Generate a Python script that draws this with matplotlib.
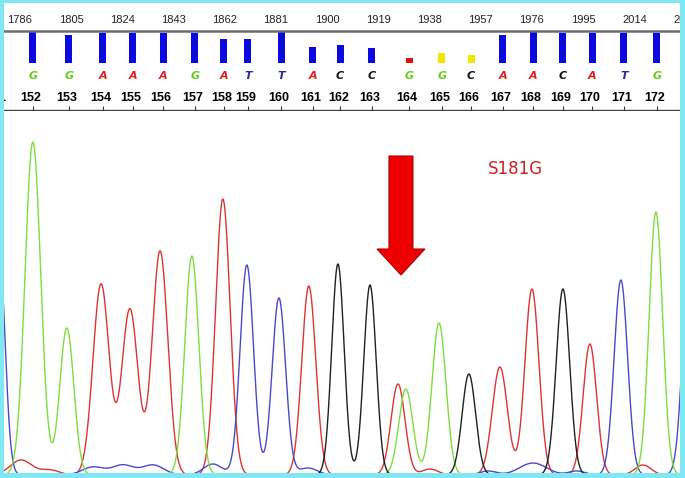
import numpy as np
import matplotlib
matplotlib.use("Agg")
import matplotlib.pyplot as plt
from matplotlib.patches import Rectangle

# ---------------------------------------------------------------------------
# Data (x positions in scan units)
# ---------------------------------------------------------------------------
ruler_scans = [1786, 1805, 1824, 1843, 1862, 1881, 1900, 1919, 1938, 1957,
               1976, 1995, 2014, 2033]

base_numbers = [151, 152, 153, 154, 155, 156, 157, 158, 159, 160, 161, 162,
                163, 164, 165, 166, 167, 168, 169, 170, 171, 172]
base_letters = ["T", "G", "G", "A", "A", "A", "G", "A", "T", "T", "A", "C",
                "C", "G", "G", "C", "A", "A", "C", "A", "T", "G"]
base_scans = [1777.8, 1790.8, 1804.2, 1816.8, 1827.9, 1839.1, 1850.9, 1861.7,
              1870.6, 1882.9, 1894.7, 1904.8, 1916.6, 1930.4, 1942.6, 1953.4,
              1965.2, 1976.4, 1987.5, 1998.3, 2010.1, 2022.4]
quality = [30, 31, 28, 30, 30, 30, 30, 24, 24, 31, 16, 18, 15, 5, 10, 8,
           28, 31, 30, 30, 30, 30]

# trace peaks: (scan, height, width)
peaks_G = [(1790.8, 333, 2.9), (1803.4, 147, 2.6), (1849.8, 219, 2.6),
           (1929.2, 86, 2.6), (1941.5, 152, 2.6), (2022.0, 263, 2.5)]
peaks_A = [(1786.4, 15, 4.0), (1797.1, 5, 3.5), (1816.1, 191, 3.0),
           (1826.8, 166, 3.0), (1838.0, 224, 2.9), (1861.3, 276, 2.7),
           (1893.2, 189, 2.6), (1926.3, 91, 2.6), (1938.2, 6, 3.0),
           (1964.1, 108, 2.8), (1976.0, 186, 2.6), (1997.5, 131, 2.5),
           (2017.2, 10, 3.0)]
peaks_T = [(1778.2, 230, 2.2), (1813.1, 8, 4.0), (1824.2, 10, 4.0),
           (1835.4, 10, 4.0), (1857.6, 11, 3.5), (1870.2, 210, 2.5),
           (1882.1, 177, 2.5), (1892.9, 7, 3.5), (1959.7, 4, 3.0),
           (1976.4, 12, 5.0), (1992.7, 4, 3.0), (2009.0, 195, 2.5),
           (2034.6, 230, 2.5)]
peaks_C = [(1904.0, 211, 2.3), (1915.9, 190, 2.3), (1952.6, 101, 2.5),
           (1987.5, 186, 2.5)]

mutation_label = "S181G"

# ---------------------------------------------------------------------------
# Colours
# ---------------------------------------------------------------------------
C_BORDER = "#80e8f2"
TRACE = {"G": "#80dc40", "A": "#dc3434", "T": "#4a4ac8", "C": "#202020"}
LETTER = {"G": "#66cc22", "A": "#dd2020", "T": "#2a2aa0", "C": "#111111"}

X0, X1 = 1778.6, 2032.8
W, H = 685, 478

fig = plt.figure(figsize=(W / 100, H / 100), dpi=100)
fig.patch.set_facecolor("white")

# ---------------------------------------------------------------------------
# Top panel: ruler, quality bars, base calls
# ---------------------------------------------------------------------------
ax_top = fig.add_axes([0, 1 - 111 / H, 1, 111 / H])
ax_top.set_xlim(X0, X1)
ax_top.set_ylim(111, 0)
ax_top.axis("off")

for s in ruler_scans:
    ax_top.text(s, 20, str(s), ha="center", va="center", fontsize=8,
                family="Liberation Sans", color="#222222")
ax_top.axhline(31, color="#6e6e6e", lw=1.8)

bar_colors = []
for n in base_numbers:
    if n == 164:
        bar_colors.append("#e01010")
    elif n in (165, 166):
        bar_colors.append("#f2e600")
    else:
        bar_colors.append("#0a0ae0")
ax_top.bar(base_scans, [-q for q in quality], bottom=63, width=2.6,
           color=bar_colors, edgecolor="none")

for s, b, n in zip(base_scans, base_letters, base_numbers):
    ax_top.text(s, 76, b, ha="center", va="center", fontsize=8,
                fontweight="bold", style="italic", color=LETTER[b],
                family="DejaVu Sans")
    ax_top.text(s - 0.7, 98, str(n), ha="center", va="center", fontsize=9,
                fontweight="bold", family="Liberation Sans", color="black")

ax_top.vlines(base_scans, 106, 110, color="#333333", lw=0.8)
ax_top.axhline(110.3, color="#444444", lw=1)

# ---------------------------------------------------------------------------
# Bottom panel: chromatogram traces
# ---------------------------------------------------------------------------
ax = fig.add_axes([0, 0, 1, 368 / H])
ax.set_xlim(X0, X1)
ax.set_ylim(-3, 365)
ax.axis("off")

x = np.linspace(X0 - 10, X1 + 10, 4000)
for key, peaks in [("A", peaks_A), ("T", peaks_T), ("G", peaks_G), ("C", peaks_C)]:
    y = np.zeros_like(x)
    for pos, h, w in peaks:
        y += h * np.exp(-0.5 * ((x - pos) / w) ** 2)
    ax.plot(x, y, color=TRACE[key], lw=1.0)

# mutation arrow
ax.arrow(1927.4, 319, 0, -119, width=8.9, head_width=17.8, head_length=26,
         length_includes_head=True, fc="#ee0000", ec="#b00000", lw=0.8,
         zorder=5)
ax.text(1969.7, 306, mutation_label, ha="center", va="center", fontsize=12,
        color="#cc2020", family="DejaVu Sans")

# ---------------------------------------------------------------------------
# Cyan frame
# ---------------------------------------------------------------------------
for (bx, by, bw, bh) in [(0, 0, 4, H), (W - 5, 0, 5, H), (0, H - 3, W, 3),
                         (0, 0, W, 5)]:
    fig.patches.append(Rectangle((bx / W, by / H), bw / W, bh / H,
                                 transform=fig.transFigure, facecolor=C_BORDER,
                                 edgecolor="none", zorder=10))

fig.savefig("out.png", dpi=100, facecolor=fig.get_facecolor())
